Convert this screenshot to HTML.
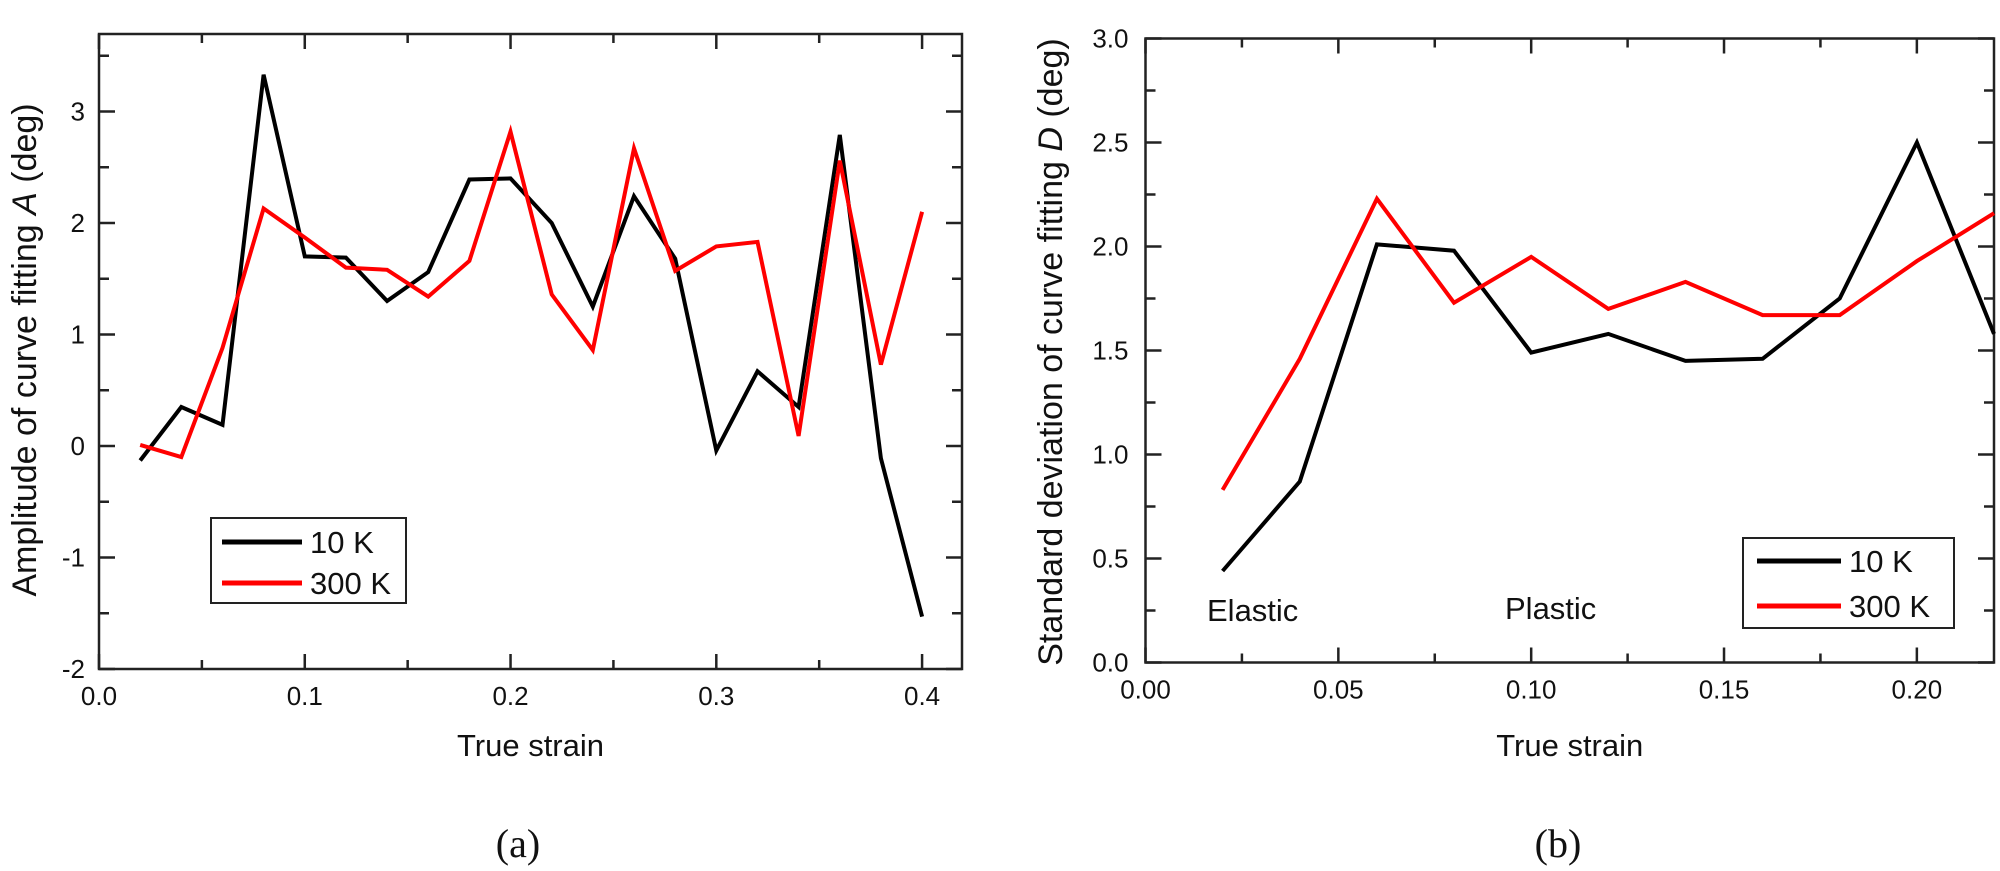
<!DOCTYPE html>
<html><head><meta charset="utf-8">
<style>
html,body{margin:0;padding:0;background:#fff;}
svg{display:block;font-family:"Liberation Sans",Arial,sans-serif;}
</style></head>
<body>
<svg id="fig" width="2000" height="871" viewBox="0 0 2000 871" xmlns="http://www.w3.org/2000/svg">
<g id="pa"></g>
<g id="pb"></g>
</svg>
<script>
// Chart (a) data
const aStrain = [0.02,0.04,0.06,0.08,0.10,0.12,0.14,0.16,0.18,0.20,0.22,0.24,0.26,0.28,0.30,0.32,0.34,0.36,0.38,0.40];
const a10K = [-0.13,0.35,0.19,3.33,1.70,1.69,1.30,1.56,2.39,2.40,2.00,1.25,2.24,1.68,-0.04,0.67,0.35,2.79,-0.11,-1.53];
const a300K = [0.01,-0.10,0.88,2.13,1.87,1.60,1.58,1.34,1.66,2.82,1.36,0.86,2.67,1.57,1.79,1.83,0.09,2.56,0.73,2.10];
const aXTicks = ["0.0","0.1","0.2","0.3","0.4"];
const aYTicks = ["-2","-1","0","1","2","3"];
// Chart (b) data
const bStrain = [0.02,0.04,0.06,0.08,0.10,0.12,0.14,0.16,0.18,0.20,0.22];
const b10K = [0.44,0.87,2.01,1.98,1.49,1.58,1.45,1.46,1.75,2.50,1.58];
const b300K = [0.83,1.46,2.23,1.73,1.95,1.70,1.83,1.67,1.67,1.93,2.16];
const bXTicks = ["0.00","0.05","0.10","0.15","0.20"];
const bYTicks = ["0.0","0.5","1.0","1.5","2.0","2.5","3.0"];

const NS="http://www.w3.org/2000/svg";
function mk(parent,tag,attrs,text){
  const e=document.createElementNS(NS,tag);
  for(const k in attrs)e.setAttribute(k,attrs[k]);
  if(text!==undefined)e.textContent=text;
  parent.appendChild(e);return e;
}
function drawChart(g,cfg){
  const X=v=>cfg.x0+(v-cfg.xmin)/(cfg.xmax-cfg.xmin)*(cfg.x1-cfg.x0);
  const Y=v=>cfg.y1-(v-cfg.ymin)/(cfg.ymax-cfg.ymin)*(cfg.y1-cfg.y0);
  const frame=mk(g,'rect',{x:cfg.x0,y:cfg.y0,width:cfg.x1-cfg.x0,height:cfg.y1-cfg.y0,fill:'none',stroke:'#222','stroke-width':2.5});
  
  
  cfg.xTicks.forEach((t,i)=>{
    const v=parseFloat(t), px=X(v);
    const tk=mk(g,'path',{d:`M${px},${cfg.y1}v-15M${px},${cfg.y0}v15`,stroke:'#222','stroke-width':2.5});
    
    
    const lb=mk(g,'text',{x:px,y:cfg.y1+36,'font-size':26,'text-anchor':'middle',fill:'#111'},t);
    
    
    const mv=v+cfg.xstep/2;
    if(mv<cfg.xmax){const m=X(mv);
      const mt=mk(g,'path',{d:`M${m},${cfg.y1}v-9M${m},${cfg.y0}v9`,stroke:'#222','stroke-width':2.5});
      
      }
  });
  cfg.yTicks.forEach(t=>{
    const v=parseFloat(t), py=Y(v);
    const tk=mk(g,'path',{d:`M${cfg.x0},${py}h16M${cfg.x1},${py}h-16`,stroke:'#222','stroke-width':2.5});
    
    
    const lb=mk(g,'text',{x:cfg.x0-cfg.ylabOff,y:py+9,'font-size':26,'text-anchor':'end',fill:'#111'},t);
    
    
    const mv=v+cfg.ystep/2;
    if(mv<cfg.ymax){const m=Y(mv);
      const mt=mk(g,'path',{d:`M${cfg.x0},${m}h10M${cfg.x1},${m}h-10`,stroke:'#222','stroke-width':2.5});
      
      }
  });
  cfg.series.forEach(s=>{
    const d=s.xs.map((x,i)=>(i?'L':'M')+X(x).toFixed(1)+','+Y(s.ys[i]).toFixed(1)).join('');
    const p=mk(g,'path',{d,fill:'none',stroke:s.color,'stroke-width':4,'stroke-linejoin':'miter'});
    
    
  });
  const xt=mk(g,'text',{x:(cfg.x0+cfg.x1)/2,y:cfg.xTitleY,'font-size':31,'text-anchor':'middle',fill:'#111'},'True strain');
  
  
}
drawChart(document.getElementById('pa'),{x0:99,x1:962,y0:34,y1:669,xmin:0,xmax:0.4194,ymin:-2,ymax:3.695,xstep:0.1,ystep:1,ylabOff:14,
  xTicks:aXTicks,yTicks:aYTicks,xTitleY:756,
  series:[{xs:aStrain,ys:a10K,color:'#000',name:'line-10k'},{xs:aStrain,ys:a300K,color:'#f00',name:'line-300k'}]});
drawChart(document.getElementById('pb'),{x0:1145.5,x1:1994,y0:38.5,y1:662.5,xmin:0,xmax:0.22,ymin:0,ymax:3,xstep:0.05,ystep:0.5,ylabOff:17,
  xTicks:bXTicks,yTicks:bYTicks,xTitleY:756,
  series:[{xs:bStrain,ys:b10K,color:'#000',name:'line-10k'},{xs:bStrain,ys:b300K,color:'#f00',name:'line-300k'}]});
</script>
<div style="position:absolute;left:0;top:0;width:2000px;height:871px;pointer-events:none;">
<svg width="2000" height="871" viewBox="0 0 2000 871" style="position:absolute;left:0;top:0;font-family:'Liberation Sans',Arial,sans-serif;">
  <text x="36" y="350" font-size="34" text-anchor="middle" transform="rotate(-90 36 350)" fill="#111">Amplitude of curve fitting <tspan font-style="italic">A</tspan> (deg)</text>
  <text x="1062" y="352" font-size="34" text-anchor="middle" transform="rotate(-90 1062 352)" fill="#111">Standard deviation of curve fitting <tspan font-style="italic">D</tspan> (deg)</text>
  <g>
    <rect x="211" y="518" width="195" height="85" fill="#fff" stroke="#222" stroke-width="2"/>
    <line x1="222" y1="542" x2="302" y2="542" stroke="#000" stroke-width="5"/>
    <text x="310" y="553" font-size="31" fill="#111">10 K</text>
    <line x1="222" y1="583" x2="302" y2="583" stroke="#f00" stroke-width="5"/>
    <text x="310" y="594" font-size="31" fill="#111">300 K</text>
  </g>
  <g>
    <rect x="1743" y="538" width="211" height="90" fill="#fff" stroke="#222" stroke-width="2"/>
    <line x1="1757" y1="561" x2="1841" y2="561" stroke="#000" stroke-width="5"/>
    <text x="1849" y="572" font-size="31" fill="#111">10 K</text>
    <line x1="1757" y1="606" x2="1841" y2="606" stroke="#f00" stroke-width="5"/>
    <text x="1849" y="617" font-size="31" fill="#111">300 K</text>
  </g>
  <text x="1207" y="621" font-size="31" fill="#111">Elastic</text>
  <text x="1505" y="619" font-size="31" fill="#111">Plastic</text>
  <text x="518" y="857" font-size="40" text-anchor="middle" font-family="'Liberation Serif',serif" fill="#111">(a)</text>
  <text x="1558" y="857" font-size="40" text-anchor="middle" font-family="'Liberation Serif',serif" fill="#111">(b)</text>
</svg>
</div>
</body></html>
